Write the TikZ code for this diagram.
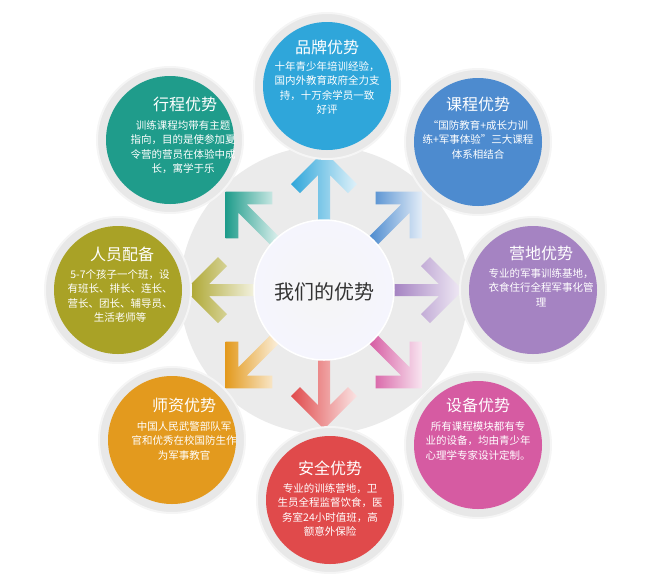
\documentclass[tikz,border=0pt]{standalone}
\usepackage{fontspec}
\setmainfont{Noto Sans CJK SC}
\begin{document}
\begin{tikzpicture}[x=1pt,y=-1pt,
  ring/.style={circle,fill=black!9,draw=black!4,line width=2pt,minimum size=146pt,inner sep=0pt},
  disc/.style={circle,fill=#1,minimum size=128pt,inner sep=0pt},
  ttl/.style={text=white,font=\fontsize{16}{18}\selectfont},
  bdy/.style={text=white,font=\fontsize{10.5}{14.5}\selectfont,align=center,text width=122pt}]
\definecolor{cA}{HTML}{2FA6DA}\definecolor{cB}{HTML}{4D8BCF}
\definecolor{cC}{HTML}{A583C2}\definecolor{cD}{HTML}{D65BA2}
\definecolor{cE}{HTML}{E04A4B}\definecolor{cF}{HTML}{E39A1E}
\definecolor{cG}{HTML}{A9A226}\definecolor{cH}{HTML}{1F9C8B}
\useasboundingbox (0,0) rectangle (648,582);
\node[circle,fill=black!8,minimum size=288pt] (bg) at (324,290) {};
\foreach \ang/\col in {90/cA,45/cB,0/cC,-45/cD,-90/cE,-135/cF,180/cG,135/cH}{
  \begin{scope}[shift={(324,290)},rotate=\ang]
   \shade[right color=\col!15!white,left color=\col]
     (70,-6)--(115,-6)--(97,-24)--(106,-33)--(139,0)--(106,33)--(97,24)--(115,6)--(70,6)--cycle;
  \end{scope}}
\node[circle,inner color=white!60!black!10,outer color=black!14!blue!4!white,draw=white,line width=1.5pt,minimum size=140pt] (c) at (324,290) {};
\node[font=\fontsize{20}{22}\selectfont,text=black!80] (ct) at (324,292) {我们的优势};
\foreach \n/\x/\y/\col in {a/327/86/cA,b/478/142/cB,c2/533/290/cC,d/478/445/cD,e/330/500/cE,f/172/440/cF,g/118/290/cG,h/170/140/cH}{
  \node[ring] (r\n) at (\x,\y) {};
  \node[disc=\col] (d\n) at (\x,\y) {};}
\node[ttl] (ta) at (327,47) {品牌优势};
\node[bdy,anchor=north] (ba) at (327,58) {十年青少年培训经验，\\国内外教育政府全力支\\持，十万余学员一致\\好评};
\node[ttl] (tb) at (478,104) {课程优势};
\node[bdy,anchor=north] (bb) at (478,117) {“国防教育+成长力训\\练+军事体验”三大课程\\体系相结合};
\node[ttl] (tc) at (541,253) {营地优势};
\node[bdy,anchor=north] (bc) at (541,265) {专业的军事训练基地，\\衣食住行全程军事化管\\理};
\node[ttl] (td) at (478,405) {设备优势};
\node[bdy,anchor=north] (bd) at (478,418) {所有课程模块都有专\\业的设备，均由青少年\\心理学专家设计定制。};
\node[ttl] (te) at (330,468) {安全优势};
\node[bdy,anchor=north] (be) at (330,480) {专业的训练营地，卫\\生员全程监督饮食，医\\务室24小时值班，高\\额意外保险};
\node[ttl] (tf) at (184,405) {师资优势};
\node[bdy,anchor=north] (bf) at (184,418) {中国人民武警部队军\\官和优秀在校国防生作\\为军事教官};
\node[ttl] (tg) at (122,254) {人员配备};
\node[bdy,anchor=north] (bg2) at (120,266) {5-7个孩子一个班，设\\有班长、排长、连长、\\营长、团长、辅导员、\\生活老师等};
\node[ttl] (th) at (185,104) {行程优势};
\node[bdy,anchor=north] (bh) at (183,117) {训练课程均带有主题\\指向，目的是使参加夏\\令营的营员在体验中成\\长，寓学于乐};
\end{tikzpicture}
\end{document}
